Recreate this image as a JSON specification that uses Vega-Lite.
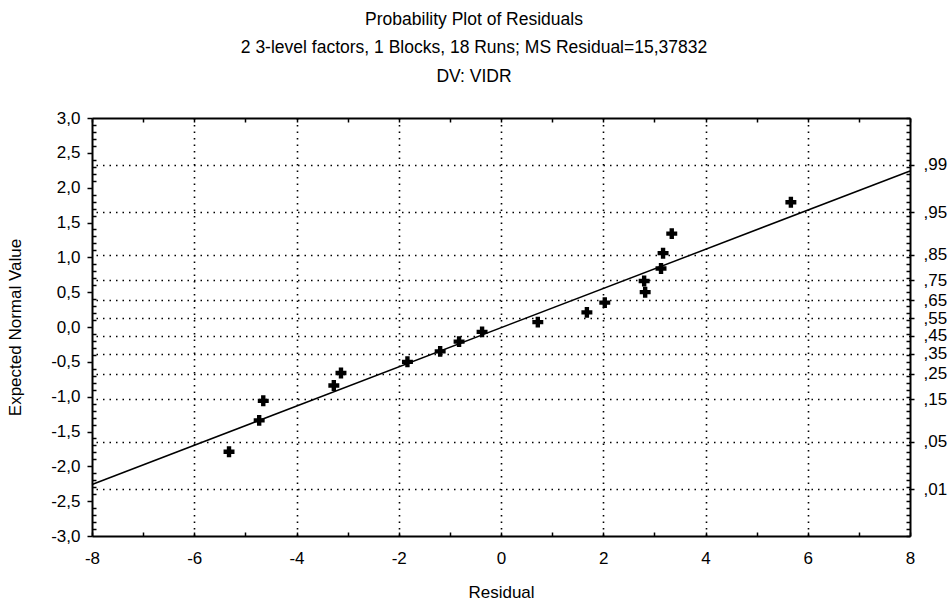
{
  "$schema": "https://vega.github.io/schema/vega-lite/v6.json",
  "width": 818,
  "height": 418,
  "autosize": "none",
  "padding": {"left": 92, "top": 118, "right": 41, "bottom": 64},
  "background": "white",
  "title": {
    "text": "Probability Plot of Residuals",
    "subtitle": ["2 3-level factors, 1 Blocks, 18 Runs; MS Residual=15,37832", "DV: VIDR"],
    "anchor": "middle",
    "dx": -27,
    "offset": 24,
    "font": "Liberation Sans",
    "fontSize": 17.5,
    "fontWeight": "normal",
    "color": "black",
    "subtitleFont": "Liberation Sans",
    "subtitleFontSize": 17.5,
    "subtitleColor": "black",
    "subtitleLineHeight": 29,
    "subtitlePadding": 10
  },
  "config": {
    "view": {"stroke": null},
    "axis": {
      "domainColor": "black",
      "domainWidth": 2,
      "tickColor": "black",
      "tickWidth": 1.5,
      "labelFont": "Liberation Sans",
      "labelFontSize": 17,
      "labelColor": "black",
      "titleFont": "Liberation Sans",
      "titleFontSize": 17,
      "titleFontWeight": "normal",
      "titleColor": "black",
      "gridColor": "black",
      "gridDash": [1.5, 5],
      "gridWidth": 1.6,
      "labelOverlap": false,
      "labelBound": false,
      "labelFlush": false
    }
  },
  "layer": [
    {
      "data": {"values": [
        {"residual": -5.32, "expected": -1.79},
        {"residual": -4.73, "expected": -1.34},
        {"residual": -4.65, "expected": -1.06},
        {"residual": -3.27, "expected": -0.84},
        {"residual": -3.13, "expected": -0.66},
        {"residual": -1.83, "expected": -0.50},
        {"residual": -1.19, "expected": -0.35},
        {"residual": -0.82, "expected": -0.21},
        {"residual": -0.37, "expected": -0.07},
        {"residual": 0.72, "expected": 0.07},
        {"residual": 1.68, "expected": 0.21},
        {"residual": 2.03, "expected": 0.35},
        {"residual": 2.82, "expected": 0.50},
        {"residual": 2.80, "expected": 0.66},
        {"residual": 3.13, "expected": 0.84},
        {"residual": 3.17, "expected": 1.06},
        {"residual": 3.34, "expected": 1.34},
        {"residual": 5.67, "expected": 1.79}
      ]},
      "mark": {"type": "point", "shape": "cross", "filled": true, "size": 120, "color": "black", "opacity": 1},
      "encoding": {
        "x": {
          "field": "residual", "type": "quantitative",
          "scale": {"domain": [-8, 8], "nice": false, "zero": false},
          "axis": {
            "orient": "bottom",
            "title": "Residual",
            "titlePadding": 18,
            "values": [-8, -7, -6, -5, -4, -3, -2, -1, 0, 1, 2, 3, 4, 5, 6, 7, 8],
            "labelExpr": "datum.value % 2 == 0 ? '' + datum.value : ''",
            "tickSize": -4,
            "labelPadding": 18,
            "grid": true,
            "gridOpacity": {"condition": {"test": "datum.value % 2 == 0 && abs(datum.value) < 8", "value": 1}, "value": 0}
          }
        },
        "y": {
          "field": "expected", "type": "quantitative",
          "scale": {"domain": [-3, 3], "nice": false, "zero": false},
          "axis": {
            "orient": "left",
            "title": "Expected Normal Value",
            "titlePadding": 26,
            "values": [-3, -2.9, -2.8, -2.7, -2.6, -2.5, -2.4, -2.3, -2.2, -2.1, -2, -1.9, -1.8, -1.7, -1.6, -1.5, -1.4, -1.3, -1.2, -1.1, -1, -0.9, -0.8, -0.7, -0.6, -0.5, -0.4, -0.3, -0.2, -0.1, 0, 0.1, 0.2, 0.3, 0.4, 0.5, 0.6, 0.7, 0.8, 0.9, 1, 1.1, 1.2, 1.3, 1.4, 1.5, 1.6, 1.7, 1.8, 1.9, 2, 2.1, 2.2, 2.3, 2.4, 2.5, 2.6, 2.7, 2.8, 2.9, 3],
            "labelExpr": "abs(datum.value * 2 - round(datum.value * 2)) < 0.001 ? (datum.value < -0.001 ? '-' : '') + replace(format(abs(datum.value), '.1f'), '.', ',') : ''",
            "tickSize": {"condition": {"test": "abs(datum.value * 2 - round(datum.value * 2)) < 0.001", "value": 5}, "value": -4},
            "labelPadding": 7,
            "grid": false
          }
        }
      }
    },
    {
      "data": {"values": [
        {"residual_fit": -8, "expected_fit": -2.26},
        {"residual_fit": 8, "expected_fit": 2.24}
      ]},
      "mark": {"type": "line", "color": "black", "strokeWidth": 1.5},
      "encoding": {
        "x": {
          "field": "residual_fit", "type": "quantitative",
          "scale": {"domain": [-8, 8], "nice": false, "zero": false},
          "axis": {
            "orient": "top",
            "title": null,
            "values": [-8, -7, -6, -5, -4, -3, -2, -1, 0, 1, 2, 3, 4, 5, 6, 7, 8],
            "labels": false,
            "tickSize": -4,
            "grid": false
          }
        },
        "y": {
          "field": "expected_fit", "type": "quantitative",
          "scale": {"domain": [-3, 3], "nice": false, "zero": false},
          "axis": {
            "orient": "right",
            "title": null,
            "values": [-2.3263, -1.6449, -1.0364, -0.6745, -0.3853, -0.1257, 0.1257, 0.3853, 0.6745, 1.0364, 1.6449, 2.3263, -3, -2.9, -2.8, -2.7, -2.6, -2.5, -2.4, -2.3, -2.2, -2.1, -2, -1.9, -1.8, -1.7, -1.6, -1.5, -1.4, -1.3, -1.2, -1.1, -1, -0.9, -0.8, -0.7, -0.6, -0.5, -0.4, -0.3, -0.2, -0.1, 0, 0.1, 0.2, 0.3, 0.4, 0.5, 0.6, 0.7, 0.8, 0.9, 1, 1.1, 1.2, 1.3, 1.4, 1.5, 1.6, 1.7, 1.8, 1.9, 2, 2.1, 2.2, 2.3, 2.4, 2.5, 2.6, 2.7, 2.8, 2.9, 3],
            "labelExpr": "abs(datum.value * 10 - round(datum.value * 10)) > 0.01 ? replace(format(cumulativeNormal(datum.value), '.2f'), '0.', ',') : ''",
            "tickSize": {"condition": {"test": "abs(datum.value * 10 - round(datum.value * 10)) > 0.01", "value": 4}, "value": -4},
            "labelPadding": 9,
            "grid": true,
            "gridOpacity": {"condition": {"test": "abs(datum.value * 10 - round(datum.value * 10)) > 0.01", "value": 1}, "value": 0}
          }
        }
      }
    }
  ],
  "resolve": {"axis": {"x": "independent", "y": "independent"}}
}
